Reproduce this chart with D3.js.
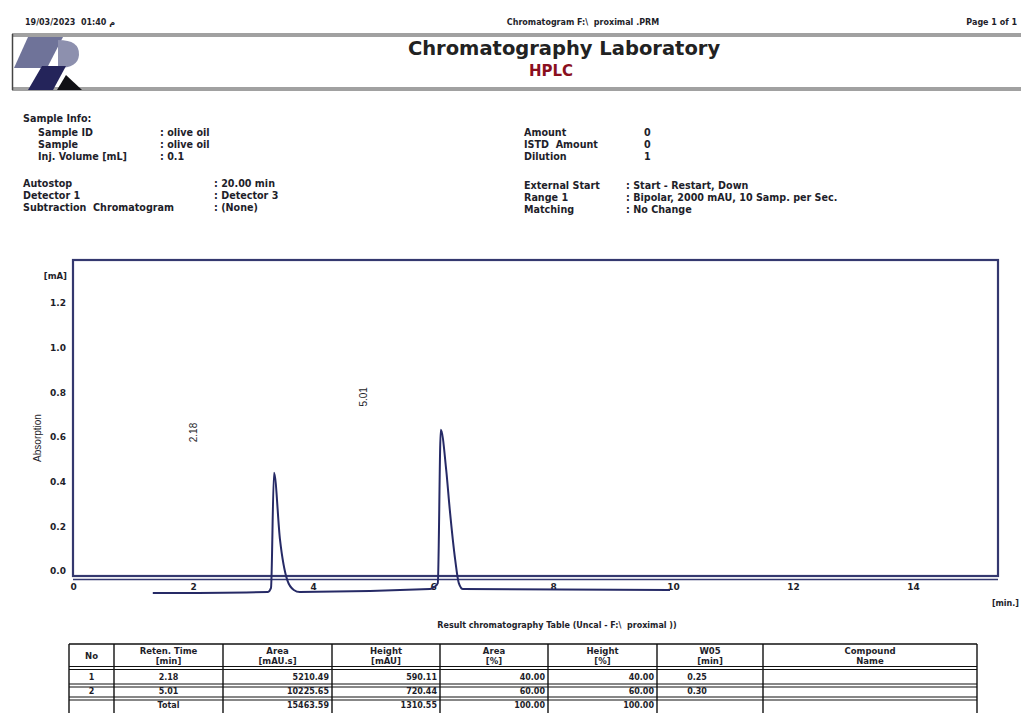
<!DOCTYPE html>
<html><head><meta charset="utf-8">
<script src="https://cdn.jsdelivr.net/npm/d3@7"></script>
<style>
html,body{margin:0;padding:0;background:#fff;}
svg{display:block;font-family:"DejaVu Sans",Verdana,sans-serif;}
</style></head>
<body><svg id="c" width="1021" height="713"></svg>
<script>
// ---------- data ----------
const yTicks = [0.0, 0.2, 0.4, 0.6, 0.8, 1.0, 1.2];
const xTicks = [0, 2, 4, 6, 8, 10, 12, 14];
// trace: time [min], signal [mA]
const traceTime = [1.33, 3.25, 3.30, 3.35, 3.45, 3.57, 3.68, 3.78, 5.95, 6.02, 6.08, 6.13, 6.22, 6.28, 6.37, 6.43, 6.50, 9.95];
const traceSignal = [-0.099, -0.094, -0.076, 0.44, 0.14, -0.04, -0.085, -0.094, -0.081, -0.072, -0.054, 0.632, 0.453, 0.274, 0.05, -0.054, -0.081, -0.085];
const peakLabels = ["2.18", "5.01"];
const peakLabelHeights = [0.62, 0.78];
const tableHeaders = [["No"], ["Reten. Time", "[min]"], ["Area", "[mAU.s]"], ["Height", "[mAU]"], ["Area", "[%]"], ["Height", "[%]"], ["W05", "[min]"], ["Compound", "Name"]];
const colNo = ["1", "2", ""];
const colRet = ["2.18", "5.01", "Total"];
const colArea = ["5210.49", "10225.65", "15463.59"];
const colHeight = ["590.11", "720.44", "1310.55"];
const colAreaPct = ["40.00", "60.00", "100.00"];
const colHeightPct = ["40.00", "60.00", "100.00"];
const colW05 = ["0.25", "0.30", ""];
const colName = ["", "", ""];
const infoLeft1 = [["Sample ID", ": olive oil"], ["Sample", ": olive oil"], ["Inj. Volume [mL]", ": 0.1"]];
const infoLeft2 = [["Autostop", ": 20.00 min"], ["Detector 1", ": Detector 3"], ["Subtraction\u00a0 Chromatogram", ": (None)"]];
const infoRight1 = [["Amount", "0"], ["ISTD\u00a0 Amount", "0"], ["Dilution", "1"]];
const infoRight2 = [["External Start", ": Start - Restart, Down"], ["Range 1", ": Bipolar, 2000 mAU, 10 Samp. per Sec."], ["Matching", ": No Change"]];

// ---------- drawing ----------
(function () {
const svg = d3.select("#c");
const ink = "#1e1e2a";
const navy = "#34386f";

svg.append("text").attr("x", 25).attr("y", 25).attr("font-size", 8).attr("font-weight", "bold").attr("fill", ink).text("19/03/2023\u00a0 01:40 م");
svg.append("text").attr("x", 583).attr("y", 25).attr("text-anchor", "middle").attr("font-size", 8).attr("font-weight", "bold").attr("fill", ink).text("Chromatogram F:\\\u00a0 proximal .PRM");
svg.append("text").attr("x", 1017).attr("y", 25).attr("text-anchor", "end").attr("font-size", 8).attr("font-weight", "bold").attr("fill", ink).text("Page 1 of 1");

[[34, 36], [88, 90]].forEach(ys => ys.forEach(yy => svg.append("line").attr("x1", 12).attr("x2", 1021).attr("y1", yy).attr("y2", yy).attr("stroke", "#444").attr("stroke-width", 1.2)));
svg.append("line").attr("x1", 12.5).attr("x2", 12.5).attr("y1", 34).attr("y2", 90).attr("stroke", "#444").attr("stroke-width", 1.5);

svg.append("polygon").attr("points", "28,37 63,37 47,68 14,68").attr("fill", "#6f7399");
svg.append("path").attr("d", "M58,40 Q80,40 79,55 Q78,68 58,68 Z").attr("fill", "#8d90ae");
svg.append("polygon").attr("points", "42,66 66,66 53,90 28,90").attr("fill", "#24245a");
svg.append("polygon").attr("points", "66,75 82,90 57,90").attr("fill", "#101015");

svg.append("text").attr("x", 564).attr("y", 55).attr("text-anchor", "middle").attr("font-size", 19.5).attr("font-weight", "bold").attr("fill", "#222").text("Chromatography Laboratory");
svg.append("text").attr("x", 551).attr("y", 76).attr("text-anchor", "middle").attr("font-size", 15).attr("font-weight", "bold").attr("fill", "#8a0f1e").text("HPLC");

const info = svg.append("g").attr("font-size", 9.6).attr("font-weight", "bold").attr("fill", ink);
info.append("text").attr("x", 23).attr("y", 122).text("Sample Info:");
infoLeft1.forEach((r, i) => {
  info.append("text").attr("x", 38).attr("y", 136 + i * 12).text(r[0]);
  info.append("text").attr("x", 160).attr("y", 136 + i * 12).text(r[1]);
});
infoLeft2.forEach((r, i) => {
  info.append("text").attr("x", 23).attr("y", 187 + i * 12).text(r[0]);
  info.append("text").attr("x", 214).attr("y", 187 + i * 12).text(r[1]);
});
infoRight1.forEach((r, i) => {
  info.append("text").attr("x", 524).attr("y", 136 + i * 12).text(r[0]);
  info.append("text").attr("x", 644).attr("y", 136 + i * 12).text(r[1]);
});
infoRight2.forEach((r, i) => {
  info.append("text").attr("x", 524).attr("y", 189 + i * 12).text(r[0]);
  info.append("text").attr("x", 626).attr("y", 189 + i * 12).text(r[1]);
});

// ---------- chart ----------
const pL = 73, pR = 998, pT = 260, pB = 576;
const x = d3.scaleLinear().domain([0, (pR - pL) / 60]).range([pL, pR]);
const y = d3.scaleLinear().domain([0, 1.2]).range([571, 303]);

svg.append("rect").attr("x", pL).attr("y", pT).attr("width", pR - pL).attr("height", pB - pT)
  .attr("fill", "none").attr("stroke", navy).attr("stroke-width", 2.2);
svg.append("line").attr("x1", pL).attr("x2", pR).attr("y1", 579.5).attr("y2", 579.5).attr("stroke", navy).attr("stroke-width", 1.6);

const yAxis = svg.append("g").attr("transform", `translate(${pL - 7},0)`)
  .call(d3.axisLeft(y).tickValues(yTicks).tickSize(0).tickPadding(0).tickFormat(d3.format(".1f")));
yAxis.select(".domain").remove();
yAxis.selectAll("text").attr("font-size", 9).attr("font-weight", "bold").attr("fill", ink).attr("font-family", "DejaVu Sans");
svg.append("text").attr("x", 67).attr("y", 279).attr("text-anchor", "end").attr("font-size", 8.5).attr("font-weight", "bold").attr("fill", ink).text("[mA]");
svg.append("text").attr("transform", "translate(41,438) rotate(-90)").attr("text-anchor", "middle").attr("font-size", 10).attr("fill", ink).attr("font-family", "Liberation Sans Narrow, Liberation Sans").text("Absorption");

const xAxis = svg.append("g").attr("transform", `translate(0,582)`)
  .call(d3.axisBottom(x).tickValues(xTicks).tickSize(0).tickPadding(2).tickFormat(d3.format("d")));
xAxis.select(".domain").remove();
xAxis.selectAll("text").attr("font-size", 9).attr("font-weight", "bold").attr("fill", ink).attr("font-family", "DejaVu Sans");
svg.append("text").attr("x", 1019).attr("y", 606).attr("text-anchor", "end").attr("font-size", 8).attr("font-weight", "bold").attr("fill", ink).text("[min.]");

const pts = traceTime.map((t, i) => [t, traceSignal[i]]);
svg.append("path").datum(pts)
  .attr("d", d3.line().x(d => x(d[0])).y(d => y(d[1])).curve(d3.curveMonotoneX))
  .attr("fill", "none").attr("stroke", "#262a66").attr("stroke-width", 2);

peakLabels.forEach((lab, i) => {
  svg.append("text").attr("transform", `translate(${x(+lab) - 7},${y(peakLabelHeights[i])}) rotate(-90)`)
    .attr("text-anchor", "middle").attr("font-size", 10).attr("fill", ink).attr("font-family", "Liberation Sans Narrow, Liberation Sans").text(lab);
});

// ---------- table ----------
svg.append("text").attr("x", 557).attr("y", 628).attr("text-anchor", "middle").attr("font-size", 8).attr("font-weight", "bold").attr("fill", ink)
  .text("Result chromatography Table (Uncal - F:\\\u00a0 proximal ))");
const colX = [69, 114, 223, 332, 440, 548, 657, 763, 977];
const rowsY = [644, 668, 685.5, 698.5, 714];
const tg = svg.append("g").attr("stroke", "#111").attr("fill", "none");
tg.append("line").attr("x1", colX[0]).attr("x2", colX[8]).attr("y1", rowsY[0]).attr("y2", rowsY[0]).attr("stroke-width", 1.4);
rowsY.slice(1, 4).forEach(yy => {
  tg.append("line").attr("x1", colX[0]).attr("x2", colX[8]).attr("y1", yy - 1.5).attr("y2", yy - 1.5).attr("stroke-width", 1.2);
  tg.append("line").attr("x1", colX[0]).attr("x2", colX[8]).attr("y1", yy + 1.5).attr("y2", yy + 1.5).attr("stroke-width", 1.2);
});
colX.forEach(cx => tg.append("line").attr("x1", cx).attr("x2", cx).attr("y1", rowsY[0]).attr("y2", 713).attr("stroke-width", 1.4));

const th = svg.append("g").attr("font-size", 8.5).attr("font-weight", "bold").attr("fill", ink).attr("text-anchor", "middle");
tableHeaders.forEach((h, i) => {
  const cx = (colX[i] + colX[i + 1]) / 2;
  if (h.length === 1) th.append("text").attr("x", cx).attr("y", 659).text(h[0]);
  else { th.append("text").attr("x", cx).attr("y", 654).text(h[0]); th.append("text").attr("x", cx).attr("y", 664).text(h[1]); }
});
const cols = [colNo, colRet, colArea, colHeight, colAreaPct, colHeightPct, colW05, colName];
const align = ["middle", "middle", "end", "end", "end", "end", "middle", "middle"];
const rowTextY = [680, 694, 708];
const tb = svg.append("g").attr("font-size", 8).attr("font-weight", "bold").attr("fill", ink);
cols.forEach((col, ci) => {
  col.forEach((v, ri) => {
    let tx = align[ci] === "end" ? colX[ci + 1] - 3 : (colX[ci] + colX[ci + 1]) / 2;
    if (ci === 6) tx = colX[ci] + 40;
    tb.append("text").attr("x", tx).attr("y", rowTextY[ri]).attr("text-anchor", align[ci]).text(v);
  });
});
})();
</script></body></html>
